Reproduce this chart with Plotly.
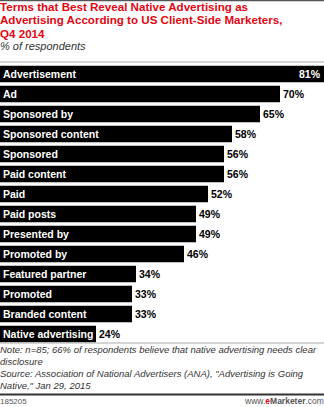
import plotly.graph_objects as go

categories = ["Advertisement", "Ad", "Sponsored by", "Sponsored content", "Sponsored",
              "Paid content", "Paid", "Paid posts", "Presented by", "Promoted by",
              "Featured partner", "Promoted", "Branded content", "Native advertising"]
values = [81, 70, 65, 58, 56, 56, 52, 49, 49, 46, 34, 33, 33, 24]
value_labels = [f"{v}%" for v in values]

title_lines = ["Terms that Best Reveal Native Advertising as",
               "Advertising According to US Client-Side Marketers,",
               "Q4 2014"]
subtitle = "% of respondents"
note_lines = ["Note: n=85; 66% of respondents believe that native advertising needs clear",
              "disclosure",
              "Source: Association of National Advertisers (ANA), \"Advertising is Going",
              "Native,\" Jan 29, 2015"]
chart_id = "185205"

W, H = 324, 407
def py(p):
    return 1 - p / H

FONT = "Liberation Sans, Arial, sans-serif"

fig = go.Figure(go.Bar(
    x=values, y=categories, orientation="h",
    marker=dict(color="black", line=dict(width=0)),
    hoverinfo="skip",
))

annotations = []
for i, (c, v, t) in enumerate(zip(categories, values, value_labels)):
    annotations.append(dict(x=0, y=c, xref="x", yref="y", text=f"<b>{c}</b>",
                            showarrow=False, xanchor="left", yanchor="middle", xshift=1,
                            font=dict(family=FONT, size=10.5, color="white")))
    if i == 0:
        annotations.append(dict(x=v, y=c, xref="x", yref="y", text=f"<b>{t}</b>",
                                showarrow=False, xanchor="right", yanchor="middle", xshift=-1,
                                font=dict(family=FONT, size=10.5, color="white")))
    else:
        annotations.append(dict(x=v, y=c, xref="x", yref="y", text=f"<b>{t}</b>",
                                showarrow=False, xanchor="left", yanchor="middle", xshift=1,
                                font=dict(family=FONT, size=10.5, color="black")))

for i, line in enumerate(title_lines):
    annotations.append(dict(x=0, y=py(7 + 13 * i), xref="paper", yref="paper",
                            text=f"<b>{line}</b>", showarrow=False,
                            xanchor="left", yanchor="middle", xshift=-2,
                            font=dict(family=FONT, size=11.6, color="#e30613")))
annotations.append(dict(x=0, y=py(46), xref="paper", yref="paper",
                        text=f"<i>{subtitle}</i>", showarrow=False,
                        xanchor="left", yanchor="middle", xshift=-2,
                        font=dict(family=FONT, size=11, color="#333")))
for i, line in enumerate(note_lines):
    annotations.append(dict(x=0, y=py(349 + 12 * i), xref="paper", yref="paper",
                            text=f"<i>{line}</i>", showarrow=False,
                            xanchor="left", yanchor="middle", xshift=-2,
                            font=dict(family=FONT, size=9.5, color="#333")))
annotations.append(dict(x=0, y=py(401), xref="paper", yref="paper",
                        text=chart_id, showarrow=False, xanchor="left", yanchor="middle",
                        xshift=-2,
                        font=dict(family=FONT, size=8, color="#555")))
annotations.append(dict(x=1, y=py(401), xref="paper", yref="paper",
                        text="www.<b><span style='color:#e30613'>e</span>Marketer</b>.com",
                        showarrow=False, xanchor="right", yanchor="middle", xshift=2,
                        font=dict(family=FONT, size=8.5, color="#555")))

shapes = [
    dict(type="line", xref="paper", yref="paper", x0=0, x1=1, y0=py(0.5), y1=py(0.5),
         line=dict(color="#555", width=1.5)),
    dict(type="line", xref="paper", yref="paper", x0=0, x1=1, y0=py(62), y1=py(62),
         line=dict(color="#aaa", width=1)),
    dict(type="line", xref="paper", yref="paper", x0=0, x1=1, y0=py(343), y1=py(343),
         line=dict(color="#aaa", width=1)),
    dict(type="line", xref="paper", yref="paper", x0=0, x1=1, y0=py(394.5), y1=py(394.5),
         line=dict(color="#333", width=2)),
]

fig.update_layout(
    width=W, height=H,
    margin=dict(l=0, r=0, t=0, b=0),
    paper_bgcolor="white", plot_bgcolor="white",
    showlegend=False,
    bargap=0.18,
    xaxis=dict(domain=[0, 1], range=[0, 81], visible=False, fixedrange=True),
    yaxis=dict(domain=[py(344), py(64)], range=[13.5, -0.5], visible=False,
               categoryorder="array", categoryarray=categories, fixedrange=True),
    annotations=annotations,
    shapes=shapes,
)

fig.write_html("out.html", config={"displayModeBar": False})
